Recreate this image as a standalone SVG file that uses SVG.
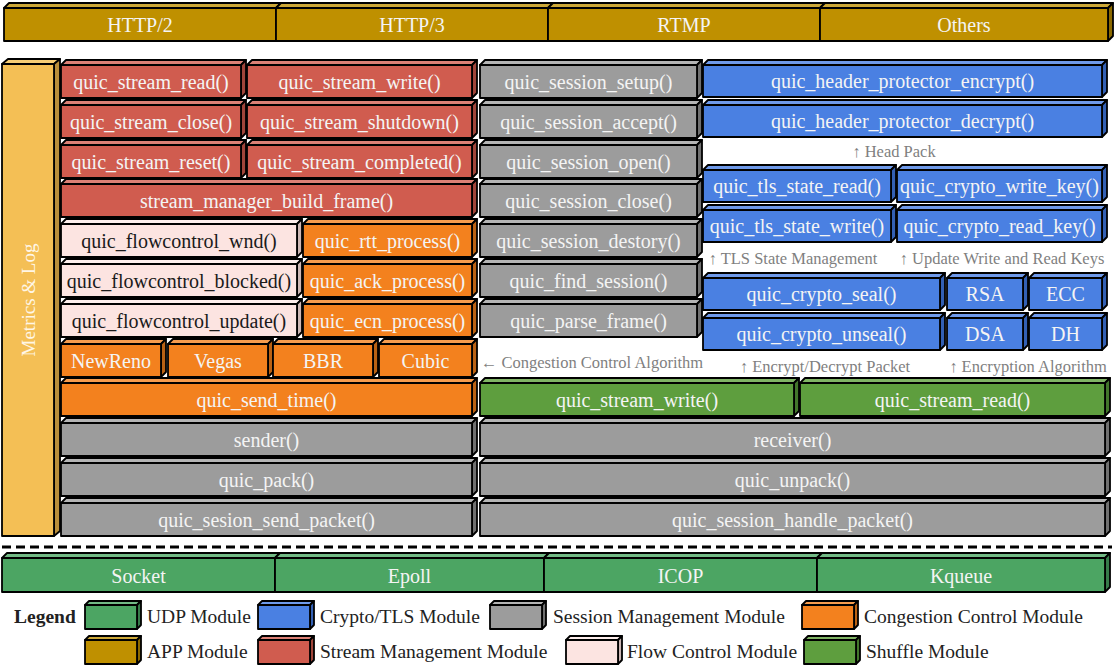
<svg xmlns="http://www.w3.org/2000/svg" width="1116" height="668" viewBox="0 0 1116 668">
<style>
.b path,.b rect{stroke:#000;stroke-width:1.8;stroke-linejoin:round}
.b text{font-family:"Liberation Serif","Times New Roman",serif;font-size:20px;fill:#F4F4F4;text-anchor:middle}
.gold .f{fill:#BF9000}.gold .t{fill:#CDA838}.gold .s{fill:#8C6A00}
.yel .f{fill:#F4BF55}.yel .t{fill:#F7CD74}.yel .s{fill:#B98E3A}
.red .f{fill:#D05C4F}.red .t{fill:#DC8075}.red .s{fill:#A0453A}
.gray .f{fill:#9C9C9C}.gray .t{fill:#B4B4B4}.gray .s{fill:#707070}
.blue .f{fill:#4A80E2}.blue .t{fill:#6F9AEA}.blue .s{fill:#3360B4}
.orange .f{fill:#F3811E}.orange .t{fill:#F69C4E}.orange .s{fill:#BA6214}
.pink .f{fill:#FCE4E1}.pink .t{fill:#FDEEEC}.pink .s{fill:#CDB8B5}
.pink text{fill:#1A1A1A}
.shuf .f{fill:#5E9E3E}.shuf .t{fill:#80B465}.shuf .s{fill:#43772C}
.udp .f{fill:#4CA563}.udp .t{fill:#72BA85}.udp .s{fill:#377B4A}
.ann{font-family:"Liberation Serif","Times New Roman",serif;font-size:16.5px;fill:#7F7F7F;text-anchor:middle}
.lg{font-family:"Liberation Serif","Times New Roman",serif;font-size:19.5px;fill:#222}
</style>

<!-- APP row -->
<g id="app_http2" class="b gold" transform="translate(4,8)"><path class="t" d="M0,0l5,-5h272l-5,5z"/><path class="s" d="M272,0l5,-5v33l-5,5z"/><rect class="f" width="272" height="33"/><text x="136" y="23.5">HTTP/2</text></g>
<g id="app_http3" class="b gold" transform="translate(276,8)"><path class="t" d="M0,0l5,-5h272l-5,5z"/><path class="s" d="M272,0l5,-5v33l-5,5z"/><rect class="f" width="272" height="33"/><text x="136" y="23.5">HTTP/3</text></g>
<g id="app_rtmp" class="b gold" transform="translate(548,8)"><path class="t" d="M0,0l5,-5h272l-5,5z"/><path class="s" d="M272,0l5,-5v33l-5,5z"/><rect class="f" width="272" height="33"/><text x="136" y="23.5">RTMP</text></g>
<g id="app_others" class="b gold" transform="translate(820,8)"><path class="t" d="M0,0l5,-5h288l-5,5z"/><path class="s" d="M288,0l5,-5v33l-5,5z"/><rect class="f" width="288" height="33"/><text x="144" y="23.5">Others</text></g>

<!-- Metrics & Log -->
<g id="metrics_log" class="b yel" transform="translate(2,64)"><path class="t" d="M0,0l6,-5h52l-6,5z"/><path class="s" d="M52,0l6,-5v472l-6,5z"/><rect class="f" width="52" height="472"/><text transform="translate(33,236) rotate(-90)" x="0" y="0" style="font-size:19px;fill:#FFF6E6">Metrics &amp; Log</text></g>

<!-- Left column -->
<g id="stream_read" class="b red" transform="translate(61,65)"><path class="t" d="M0,0l5,-5h180l-5,5z"/><path class="s" d="M180,0l5,-5v33l-5,5z"/><rect class="f" width="180" height="33"/><text x="90" y="23.5">quic_stream_read()</text></g>
<g id="stream_write" class="b red" transform="translate(247,65)"><path class="t" d="M0,0l5,-5h225l-5,5z"/><path class="s" d="M225,0l5,-5v33l-5,5z"/><rect class="f" width="225" height="33"/><text x="112.5" y="23.5">quic_stream_write()</text></g>
<g id="stream_close" class="b red" transform="translate(61,105)"><path class="t" d="M0,0l5,-5h180l-5,5z"/><path class="s" d="M180,0l5,-5v33l-5,5z"/><rect class="f" width="180" height="33"/><text x="90" y="23.5">quic_stream_close()</text></g>
<g id="stream_shutdown" class="b red" transform="translate(247,105)"><path class="t" d="M0,0l5,-5h225l-5,5z"/><path class="s" d="M225,0l5,-5v33l-5,5z"/><rect class="f" width="225" height="33"/><text x="112.5" y="23.5">quic_stream_shutdown()</text></g>
<g id="stream_reset" class="b red" transform="translate(61,145)"><path class="t" d="M0,0l5,-5h180l-5,5z"/><path class="s" d="M180,0l5,-5v33l-5,5z"/><rect class="f" width="180" height="33"/><text x="90" y="23.5">quic_stream_reset()</text></g>
<g id="stream_completed" class="b red" transform="translate(247,145)"><path class="t" d="M0,0l5,-5h225l-5,5z"/><path class="s" d="M225,0l5,-5v33l-5,5z"/><rect class="f" width="225" height="33"/><text x="112.5" y="23.5">quic_stream_completed()</text></g>
<g id="build_frame" class="b red" transform="translate(61,184)"><path class="t" d="M0,0l5,-5h411l-5,5z"/><path class="s" d="M411,0l5,-5v33l-5,5z"/><rect class="f" width="411" height="33"/><text x="205.5" y="23.5">stream_manager_build_frame()</text></g>
<g id="fc_wnd" class="b pink" transform="translate(61,224)"><path class="t" d="M0,0l5,-5h236l-5,5z"/><path class="s" d="M236,0l5,-5v33l-5,5z"/><rect class="f" width="236" height="33"/><text x="118" y="23.5">quic_flowcontrol_wnd()</text></g>
<g id="rtt_process" class="b orange" transform="translate(303,224)"><path class="t" d="M0,0l5,-5h169l-5,5z"/><path class="s" d="M169,0l5,-5v33l-5,5z"/><rect class="f" width="169" height="33"/><text x="84.5" y="23.5">quic_rtt_process()</text></g>
<g id="fc_blocked" class="b pink" transform="translate(61,264)"><path class="t" d="M0,0l5,-5h236l-5,5z"/><path class="s" d="M236,0l5,-5v33l-5,5z"/><rect class="f" width="236" height="33"/><text x="118" y="23.5">quic_flowcontrol_blocked()</text></g>
<g id="ack_process" class="b orange" transform="translate(303,264)"><path class="t" d="M0,0l5,-5h169l-5,5z"/><path class="s" d="M169,0l5,-5v33l-5,5z"/><rect class="f" width="169" height="33"/><text x="84.5" y="23.5">quic_ack_process()</text></g>
<g id="fc_update" class="b pink" transform="translate(61,304)"><path class="t" d="M0,0l5,-5h236l-5,5z"/><path class="s" d="M236,0l5,-5v33l-5,5z"/><rect class="f" width="236" height="33"/><text x="118" y="23.5">quic_flowcontrol_update()</text></g>
<g id="ecn_process" class="b orange" transform="translate(303,304)"><path class="t" d="M0,0l5,-5h169l-5,5z"/><path class="s" d="M169,0l5,-5v33l-5,5z"/><rect class="f" width="169" height="33"/><text x="84.5" y="23.5">quic_ecn_process()</text></g>
<g id="newreno" class="b orange" transform="translate(61,344)"><path class="t" d="M0,0l5,-5h100l-5,5z"/><path class="s" d="M100,0l5,-5v33l-5,5z"/><rect class="f" width="100" height="33"/><text x="50" y="23.5">NewReno</text></g>
<g id="vegas" class="b orange" transform="translate(168,344)"><path class="t" d="M0,0l5,-5h100l-5,5z"/><path class="s" d="M100,0l5,-5v33l-5,5z"/><rect class="f" width="100" height="33"/><text x="50" y="23.5">Vegas</text></g>
<g id="bbr" class="b orange" transform="translate(273,344)"><path class="t" d="M0,0l5,-5h100l-5,5z"/><path class="s" d="M100,0l5,-5v33l-5,5z"/><rect class="f" width="100" height="33"/><text x="50" y="23.5">BBR</text></g>
<g id="cubic" class="b orange" transform="translate(379,344)"><path class="t" d="M0,0l5,-5h93l-5,5z"/><path class="s" d="M93,0l5,-5v33l-5,5z"/><rect class="f" width="93" height="33"/><text x="46.5" y="23.5">Cubic</text></g>
<g id="send_time" class="b orange" transform="translate(61,383)"><path class="t" d="M0,0l5,-5h411l-5,5z"/><path class="s" d="M411,0l5,-5v33l-5,5z"/><rect class="f" width="411" height="33"/><text x="205.5" y="23.5">quic_send_time()</text></g>
<g id="sender" class="b gray" transform="translate(61,423)"><path class="t" d="M0,0l5,-5h411l-5,5z"/><path class="s" d="M411,0l5,-5v33l-5,5z"/><rect class="f" width="411" height="33"/><text x="205.5" y="23.5">sender()</text></g>
<g id="pack" class="b gray" transform="translate(61,463)"><path class="t" d="M0,0l5,-5h411l-5,5z"/><path class="s" d="M411,0l5,-5v33l-5,5z"/><rect class="f" width="411" height="33"/><text x="205.5" y="23.5">quic_pack()</text></g>
<g id="send_packet" class="b gray" transform="translate(61,503)"><path class="t" d="M0,0l5,-5h411l-5,5z"/><path class="s" d="M411,0l5,-5v33l-5,5z"/><rect class="f" width="411" height="33"/><text x="205.5" y="23.5">quic_sesion_send_packet()</text></g>

<!-- Middle column -->
<g id="session_setup" class="b gray" transform="translate(480,65)"><path class="t" d="M0,0l5,-5h217l-5,5z"/><path class="s" d="M217,0l5,-5v33l-5,5z"/><rect class="f" width="217" height="33"/><text x="108.5" y="23.5">quic_session_setup()</text></g>
<g id="session_accept" class="b gray" transform="translate(480,105)"><path class="t" d="M0,0l5,-5h217l-5,5z"/><path class="s" d="M217,0l5,-5v33l-5,5z"/><rect class="f" width="217" height="33"/><text x="108.5" y="23.5">quic_session_accept()</text></g>
<g id="session_open" class="b gray" transform="translate(480,145)"><path class="t" d="M0,0l5,-5h217l-5,5z"/><path class="s" d="M217,0l5,-5v33l-5,5z"/><rect class="f" width="217" height="33"/><text x="108.5" y="23.5">quic_session_open()</text></g>
<g id="session_close" class="b gray" transform="translate(480,184)"><path class="t" d="M0,0l5,-5h217l-5,5z"/><path class="s" d="M217,0l5,-5v33l-5,5z"/><rect class="f" width="217" height="33"/><text x="108.5" y="23.5">quic_session_close()</text></g>
<g id="session_destory" class="b gray" transform="translate(480,224)"><path class="t" d="M0,0l5,-5h217l-5,5z"/><path class="s" d="M217,0l5,-5v33l-5,5z"/><rect class="f" width="217" height="33"/><text x="108.5" y="23.5">quic_session_destory()</text></g>
<g id="find_session" class="b gray" transform="translate(480,264)"><path class="t" d="M0,0l5,-5h217l-5,5z"/><path class="s" d="M217,0l5,-5v33l-5,5z"/><rect class="f" width="217" height="33"/><text x="108.5" y="23.5">quic_find_session()</text></g>
<g id="parse_frame" class="b gray" transform="translate(480,304)"><path class="t" d="M0,0l5,-5h217l-5,5z"/><path class="s" d="M217,0l5,-5v33l-5,5z"/><rect class="f" width="217" height="33"/><text x="108.5" y="23.5">quic_parse_frame()</text></g>
<g id="shuffle_write" class="b shuf" transform="translate(480,383)"><path class="t" d="M0,0l5,-5h314l-5,5z"/><path class="s" d="M314,0l5,-5v33l-5,5z"/><rect class="f" width="314" height="33"/><text x="157" y="23.5">quic_stream_write()</text></g>
<g id="shuffle_read" class="b shuf" transform="translate(800,383)"><path class="t" d="M0,0l5,-5h305l-5,5z"/><path class="s" d="M305,0l5,-5v33l-5,5z"/><rect class="f" width="305" height="33"/><text x="152.5" y="23.5">quic_stream_read()</text></g>
<g id="receiver" class="b gray" transform="translate(480,423)"><path class="t" d="M0,0l5,-5h625l-5,5z"/><path class="s" d="M625,0l5,-5v33l-5,5z"/><rect class="f" width="625" height="33"/><text x="312.5" y="23.5">receiver()</text></g>
<g id="unpack" class="b gray" transform="translate(480,463)"><path class="t" d="M0,0l5,-5h625l-5,5z"/><path class="s" d="M625,0l5,-5v33l-5,5z"/><rect class="f" width="625" height="33"/><text x="312.5" y="23.5">quic_unpack()</text></g>
<g id="handle_packet" class="b gray" transform="translate(480,503)"><path class="t" d="M0,0l5,-5h625l-5,5z"/><path class="s" d="M625,0l5,-5v33l-5,5z"/><rect class="f" width="625" height="33"/><text x="312.5" y="23.5">quic_session_handle_packet()</text></g>

<!-- Right column -->
<g id="hp_encrypt" class="b blue" transform="translate(703,65)"><path class="t" d="M0,0l5,-5h399l-5,5z"/><path class="s" d="M399,0l5,-5v32l-5,5z"/><rect class="f" width="399" height="32"/><text x="199.5" y="23">quic_header_protector_encrypt()</text></g>
<g id="hp_decrypt" class="b blue" transform="translate(703,105)"><path class="t" d="M0,0l5,-5h399l-5,5z"/><path class="s" d="M399,0l5,-5v32l-5,5z"/><rect class="f" width="399" height="32"/><text x="199.5" y="23">quic_header_protector_decrypt()</text></g>
<g id="tls_read" class="b blue" transform="translate(703,170)"><path class="t" d="M0,0l5,-5h188l-5,5z"/><path class="s" d="M188,0l5,-5v32l-5,5z"/><rect class="f" width="188" height="32"/><text x="94" y="23">quic_tls_state_read()</text></g>
<g id="write_key" class="b blue" transform="translate(897,170)"><path class="t" d="M0,0l5,-5h205l-5,5z"/><path class="s" d="M205,0l5,-5v32l-5,5z"/><rect class="f" width="205" height="32"/><text x="102.5" y="23">quic_crypto_write_key()</text></g>
<g id="tls_write" class="b blue" transform="translate(703,210)"><path class="t" d="M0,0l5,-5h188l-5,5z"/><path class="s" d="M188,0l5,-5v32l-5,5z"/><rect class="f" width="188" height="32"/><text x="94" y="23">quic_tls_state_write()</text></g>
<g id="read_key" class="b blue" transform="translate(897,210)"><path class="t" d="M0,0l5,-5h205l-5,5z"/><path class="s" d="M205,0l5,-5v32l-5,5z"/><rect class="f" width="205" height="32"/><text x="102.5" y="23">quic_crypto_read_key()</text></g>
<g id="seal" class="b blue" transform="translate(703,278)"><path class="t" d="M0,0l5,-5h237l-5,5z"/><path class="s" d="M237,0l5,-5v32l-5,5z"/><rect class="f" width="237" height="32"/><text x="118.5" y="23">quic_crypto_seal()</text></g>
<g id="rsa" class="b blue" transform="translate(947,278)"><path class="t" d="M0,0l5,-5h76l-5,5z"/><path class="s" d="M76,0l5,-5v32l-5,5z"/><rect class="f" width="76" height="32"/><text x="38" y="23">RSA</text></g>
<g id="ecc" class="b blue" transform="translate(1029,278)"><path class="t" d="M0,0l5,-5h73l-5,5z"/><path class="s" d="M73,0l5,-5v32l-5,5z"/><rect class="f" width="73" height="32"/><text x="36.5" y="23">ECC</text></g>
<g id="unseal" class="b blue" transform="translate(703,318)"><path class="t" d="M0,0l5,-5h237l-5,5z"/><path class="s" d="M237,0l5,-5v32l-5,5z"/><rect class="f" width="237" height="32"/><text x="118.5" y="23">quic_crypto_unseal()</text></g>
<g id="dsa" class="b blue" transform="translate(947,318)"><path class="t" d="M0,0l5,-5h76l-5,5z"/><path class="s" d="M76,0l5,-5v32l-5,5z"/><rect class="f" width="76" height="32"/><text x="38" y="23">DSA</text></g>
<g id="dh" class="b blue" transform="translate(1029,318)"><path class="t" d="M0,0l5,-5h73l-5,5z"/><path class="s" d="M73,0l5,-5v32l-5,5z"/><rect class="f" width="73" height="32"/><text x="36.5" y="23">DH</text></g>

<!-- Annotations -->
<g id="annotations">
<text class="ann" x="894" y="157">↑ Head Pack</text>
<text class="ann" x="793" y="264">↑ TLS State Management</text>
<text class="ann" x="1002" y="264">↑ Update Write and Read Keys</text>
<text class="ann" x="592" y="368">← Congestion Control Algorithm</text>
<text class="ann" x="825" y="372">↑ Encrypt/Decrypt Packet</text>
<text class="ann" x="1028" y="372">↑ Encryption Algorithm</text>
</g>

<g id="connectors"></g>

<!-- Divider -->
<line id="divider" x1="2" y1="547" x2="1112" y2="547" stroke="#000" stroke-width="3" stroke-dasharray="9,5"/>

<!-- UDP row -->
<g id="udp_socket" class="b udp" transform="translate(2,558)"><path class="t" d="M0,0l5,-5h273l-5,5z"/><path class="s" d="M273,0l5,-5v34l-5,5z"/><rect class="f" width="273" height="34"/><text x="136.5" y="24.5">Socket</text></g>
<g id="udp_epoll" class="b udp" transform="translate(275,558)"><path class="t" d="M0,0l5,-5h269l-5,5z"/><path class="s" d="M269,0l5,-5v34l-5,5z"/><rect class="f" width="269" height="34"/><text x="134.5" y="24.5">Epoll</text></g>
<g id="udp_icop" class="b udp" transform="translate(544,558)"><path class="t" d="M0,0l5,-5h273l-5,5z"/><path class="s" d="M273,0l5,-5v34l-5,5z"/><rect class="f" width="273" height="34"/><text x="136.5" y="24.5">ICOP</text></g>
<g id="udp_kqueue" class="b udp" transform="translate(817,558)"><path class="t" d="M0,0l5,-5h288l-5,5z"/><path class="s" d="M288,0l5,-5v34l-5,5z"/><rect class="f" width="288" height="34"/><text x="144" y="24.5">Kqueue</text></g>

<!-- Legend -->
<g id="legend">
<text class="lg" x="14" y="623" style="font-weight:bold">Legend</text>
<g class="b udp" transform="translate(85,605)"><path class="t" d="M0,0l4,-4h52l-4,4z"/><path class="s" d="M52,0l4,-4v24l-4,4z"/><rect class="f" width="52" height="24"/></g>
<text class="lg" x="147" y="623">UDP Module</text>
<g class="b blue" transform="translate(258,605)"><path class="t" d="M0,0l4,-4h52l-4,4z"/><path class="s" d="M52,0l4,-4v24l-4,4z"/><rect class="f" width="52" height="24"/></g>
<text class="lg" x="320" y="623">Crypto/TLS Module</text>
<g class="b gray" transform="translate(490,605)"><path class="t" d="M0,0l4,-4h52l-4,4z"/><path class="s" d="M52,0l4,-4v24l-4,4z"/><rect class="f" width="52" height="24"/></g>
<text class="lg" x="553" y="623">Session Management Module</text>
<g class="b orange" transform="translate(802,605)"><path class="t" d="M0,0l4,-4h52l-4,4z"/><path class="s" d="M52,0l4,-4v24l-4,4z"/><rect class="f" width="52" height="24"/></g>
<text class="lg" x="864" y="623">Congestion Control Module</text>
<g class="b gold" transform="translate(85,640)"><path class="t" d="M0,0l4,-4h52l-4,4z"/><path class="s" d="M52,0l4,-4v24l-4,4z"/><rect class="f" width="52" height="24"/></g>
<text class="lg" x="147" y="658">APP Module</text>
<g class="b red" transform="translate(258,640)"><path class="t" d="M0,0l4,-4h52l-4,4z"/><path class="s" d="M52,0l4,-4v24l-4,4z"/><rect class="f" width="52" height="24"/></g>
<text class="lg" x="320" y="658">Stream Management Module</text>
<g class="b pink" transform="translate(566,640)"><path class="t" d="M0,0l4,-4h52l-4,4z"/><path class="s" d="M52,0l4,-4v24l-4,4z"/><rect class="f" width="52" height="24"/></g>
<text class="lg" x="627" y="658">Flow Control Module</text>
<g class="b shuf" transform="translate(804,640)"><path class="t" d="M0,0l4,-4h52l-4,4z"/><path class="s" d="M52,0l4,-4v24l-4,4z"/><rect class="f" width="52" height="24"/></g>
<text class="lg" x="866" y="658">Shuffle Module</text>
</g>
</svg>
